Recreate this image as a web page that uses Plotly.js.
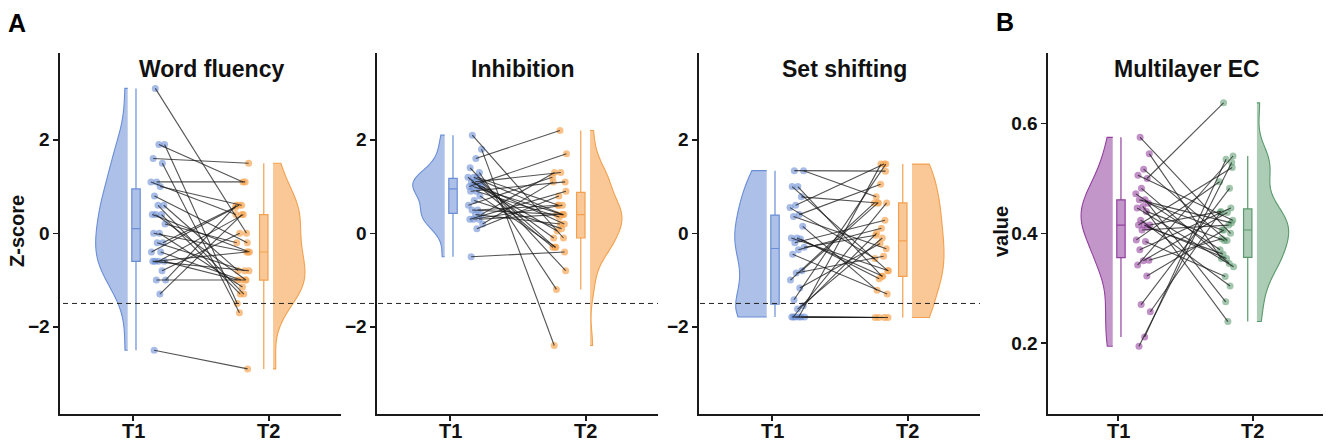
<!DOCTYPE html>
<html><head><meta charset="utf-8">
<script src="https://cdn.plot.ly/plotly-3.0.1.min.js"></script>
<style>html,body{margin:0;padding:0;background:#fff}#chart{width:1326px;height:444px}</style>
</head><body><div id="chart"></div>
<script>
// ---------------- data (paired: index i = same subject) ----------------
const timeLabels = ['T1', 'T2'];
const panelTitles = ['Word fluency', 'Inhibition', 'Set shifting', 'Multilayer EC'];
const yTitles = ['Z-score', 'value'];
const cutoffZ = -1.5;

const wordT1 = [3.1, 1.9, 1.9, 1.6, 1.5, 1.1, 1.1, 1.0, 0.8, 0.6, 0.6, 0.4, 0.4, 0.4, 0.2,
  0.0, 0.0, -0.2, -0.2, -0.4, -0.4, -0.6, -0.6, -0.6, -0.6, -0.8, -1.0, -1.0, -1.3, -2.5];
const wordT2 = [0.0, -1.5, 1.1, 1.5, -1.7, 1.1, 0.4, 0.6, -0.2, -0.8, -1.3, -0.4, -1.3, -1.0, -0.2,
  -1.15, -0.4, 0.6, -0.8, 0.55, -1.0, -0.4, -1.0, 0.4, -0.8, 0.0, -1.0, 0.6, 0.4, -2.9];

const inhibT1 = [2.1, 1.8, 1.6, 1.4, 1.3, 1.2, 1.2, 1.2, 1.1, 1.1, 1.1, 1.0, 1.0, 1.0, 1.0,
  0.9, 0.9, 0.8, 0.7, 0.6, 0.5, 0.5, 0.4, 0.4, 0.3, 0.3, 0.3, 0.2, 0.1, -0.5];
const inhibT2 = [-0.1, -2.4, 2.2, -0.8, -1.2, 0.4, -0.3, 0.6, 0.2, -0.3, 1.3, 1.7, 0.05, 0.4, -0.1,
  0.35, 1.1, -0.3, 0.1, 1.2, 0.6, 0.4, 1.3, 0.2, 0.9, 0.4, 0.6, 1.1, 0.8, -0.4];

const shiftT1 = [1.34, 1.34, 1.0, 1.0, 0.78, 0.6, 0.55, 0.4, 0.36, 0.15, -0.1, -0.1, -0.12, -0.2, -0.3,
  -0.35, -0.45, -0.8, -0.85, -1.0, -1.17, -1.42, -1.55, -1.62, -1.79, -1.79, -1.79, -1.79, -1.79, -1.79];
const shiftT2 = [1.33, 0.78, -0.92, -0.8, 0.65, 1.48, -0.54, 1.05, -0.33, -1.22, -0.92, -0.8, -0.97, 0.28, -0.04,
  0.11, -1.3, 0.65, -0.49, 0.65, -0.22, 1.48, 0.0, -0.1, -1.8, -1.8, -1.8, -1.8, 1.48, 0.65];

const ecT1 = [0.575, 0.545, 0.517, 0.506, 0.50, 0.482, 0.472, 0.461, 0.461, 0.455, 0.449, 0.446, 0.44, 0.424, 0.415,
  0.415, 0.415, 0.411, 0.406, 0.388, 0.385, 0.37, 0.351, 0.35, 0.342, 0.322, 0.27, 0.257, 0.211, 0.194];
const ecT2 = [0.40, 0.354, 0.387, 0.424, 0.638, 0.345, 0.37, 0.275, 0.419, 0.406, 0.239, 0.339, 0.387, 0.304, 0.44,
  0.354, 0.52, 0.362, 0.415, 0.494, 0.321, 0.446, 0.39, 0.438, 0.541, 0.406, 0.482, 0.438, 0.535, 0.529];

// ---------------- styling / layout config ----------------
const W = 1326, H = 444;
const FONT = 'Liberation Sans, Arial, Helvetica, sans-serif';
const pal = {
  blue:   {line: '#6A8ED6', fill: 'rgba(106,142,214,0.55)', mk: 'rgba(106,142,214,0.6)'},
  orange: {line: '#F2A150', fill: 'rgba(246,166,86,0.62)', mk: 'rgba(246,166,86,0.7)'},
  purple: {line: '#92409F', fill: 'rgba(146,64,159,0.55)', mk: 'rgba(146,64,159,0.58)'},
  green:  {line: '#5A9A6C', fill: 'rgba(90,154,108,0.5)',  mk: 'rgba(90,154,108,0.56)'}
};
const yTop = 53, yBot = 414;
const panels = [
  {t1: wordT1,  t2: wordT2,  px: [60, 341],   xr: [0.463, 2.53], yr: [-3.865, 3.857], tv: [-2, 0, 2], c1: pal.blue,   c2: pal.orange, cx: 211},
  {t1: inhibT1, t2: inhibT2, px: [377, 658],  xr: [0.463, 2.53], yr: [-3.865, 3.857], tv: [-2, 0, 2], c1: pal.blue,   c2: pal.orange, cx: 522},
  {t1: shiftT1, t2: shiftT2, px: [699, 980],  xr: [0.463, 2.53], yr: [-3.865, 3.857], tv: [-2, 0, 2], c1: pal.blue,   c2: pal.orange, cx: 844},
  {t1: ecT1,    t2: ecT2,    px: [1048, 1323], xr: [0.481, 2.52], yr: [0.0704, 0.7289], tv: [0.2, 0.4, 0.6], c1: pal.purple, c2: pal.green, cx: 1187}
];

// ---------------- helpers ----------------
function q7(s, p) { const h = (s.length - 1) * p, lo = Math.floor(h), hi = Math.ceil(h); return s[lo] + (h - lo) * (s[hi] - s[lo]); }
function boxStats(v) {
  const s = [...v].sort((a, b) => a - b);
  const q1 = q7(s, 0.25), med = q7(s, 0.5), q3 = q7(s, 0.75), iqr = q3 - q1;
  const lf = s.find(x => x >= q1 - 1.5 * iqr);
  const uf = [...s].reverse().find(x => x <= q3 + 1.5 * iqr);
  return {q1, med, q3, lf, uf};
}
function nrd0(v) {
  const n = v.length, m = v.reduce((a, b) => a + b, 0) / n;
  const sd = Math.sqrt(v.reduce((a, b) => a + (b - m) * (b - m), 0) / (n - 1));
  const s = [...v].sort((a, b) => a - b);
  const iqr = q7(s, 0.75) - q7(s, 0.25);
  return 0.9 * Math.min(sd, iqr / 1.34) * Math.pow(n, -0.2);
}
function jit(i, phase, step) { return (((i * step + phase) % 1) - 0.5) * 0.11; }

const traces = [];
const layout = {
  width: W, height: H, margin: {l: 0, r: 0, t: 0, b: 0},
  paper_bgcolor: '#fff', plot_bgcolor: '#fff', showlegend: false,
  boxmode: 'overlay', violinmode: 'overlay',
  font: {family: FONT, color: '#111'},
  annotations: [], shapes: []
};
const boldFont = (size, color) => ({family: FONT, size: size, weight: 'bold', color: color || '#111'});

panels.forEach((p, k) => {
  const sfx = k === 0 ? '' : String(k + 1);
  const xa = 'x' + sfx, ya = 'y' + sfx;
  const n = p.t1.length;
  // half violins
  [[p.t1, 0.961, 'negative', p.c1], [p.t2, 2.03, 'positive', p.c2]].forEach(([v, pos, side, c]) => {
    traces.push({type: 'violin', y: v, x0: pos, side: side, width: 0.47, scalemode: 'width',
      spanmode: 'hard', bandwidth: nrd0(v), points: false, box: {visible: false}, meanline: {visible: false},
      line: {color: c.line, width: 1.1}, fillcolor: c.fill, hoverinfo: 'skip', xaxis: xa, yaxis: ya});
  });
  // boxes
  [[p.t1, 1.022, p.c1], [p.t2, 1.962, p.c2]].forEach(([v, pos, c]) => {
    const b = boxStats(v);
    traces.push({type: 'box', x: [pos], q1: [b.q1], median: [b.med], q3: [b.q3],
      lowerfence: [b.lf], upperfence: [b.uf], width: 0.062, whiskerwidth: 0, boxpoints: false,
      line: {color: c.line, width: 1.2}, fillcolor: c.fill, hoverinfo: 'skip', xaxis: xa, yaxis: ya});
  });
  // jittered points
  const x1 = p.t1.map((_, i) => 1.185 + jit(i, 0.31, 0.6180339887));
  const x2 = p.t2.map((_, i) => 1.805 + jit(i, 0.77, 0.3819660113));
  traces.push({type: 'scatter', mode: 'markers', x: x1, y: p.t1, marker: {size: 7, color: p.c1.mk},
    hoverinfo: 'skip', xaxis: xa, yaxis: ya});
  traces.push({type: 'scatter', mode: 'markers', x: x2, y: p.t2, marker: {size: 7, color: p.c2.mk},
    hoverinfo: 'skip', xaxis: xa, yaxis: ya});
  // paired lines
  const lx = [], ly = [];
  for (let i = 0; i < n; i++) { lx.push(x1[i], x2[i], null); ly.push(p.t1[i], p.t2[i], null); }
  traces.push({type: 'scatter', mode: 'lines', x: lx, y: ly, line: {color: 'rgba(25,25,25,0.75)', width: 1.1},
    hoverinfo: 'skip', connectgaps: false, xaxis: xa, yaxis: ya});

  const axBase = {showgrid: false, zeroline: false, showline: true, linecolor: '#1a1a1a', linewidth: 1.6,
    ticks: 'outside', ticklen: 5, tickwidth: 1.4, tickcolor: '#1a1a1a', automargin: false,
    tickfont: boldFont(19), fixedrange: true};
  layout['xaxis' + sfx] = Object.assign({}, axBase, {
    domain: [p.px[0] / W, p.px[1] / W], range: p.xr, anchor: ya,
    tickvals: [1, 2], ticktext: timeLabels, showticklabels: false});
  layout['yaxis' + sfx] = Object.assign({}, axBase, {
    domain: [(H - yBot) / H, (H - yTop) / H], range: p.yr, anchor: xa,
    tickvals: p.tv});
  // x tick labels (as text placed on the x scale)
  timeLabels.forEach((lab, j) => {
    layout.annotations.push({text: lab, xref: xa, yref: 'paper', x: j + 1, y: 1 - 431 / H,
      xanchor: 'center', yanchor: 'middle', showarrow: false, font: boldFont(20)});
  });
  layout.annotations.push({text: panelTitles[k], xref: 'paper', yref: 'paper', x: p.cx / W, y: 1 - 69 / H,
    xanchor: 'center', yanchor: 'middle', showarrow: false, font: boldFont(23)});
});

// cutoff dashed lines (Z panels)
layout.shapes.push({type: 'line', xref: 'paper', yref: 'y', x0: 63 / W, x1: 658 / W, y0: cutoffZ, y1: cutoffZ,
  line: {color: '#222', width: 1, dash: '5px,4px'}});
layout.shapes.push({type: 'line', xref: 'paper', yref: 'y3', x0: 700 / W, x1: 980 / W, y0: cutoffZ, y1: cutoffZ,
  line: {color: '#222', width: 1, dash: '5px,4px'}});

// axis titles and panel letters
layout.annotations.push({text: yTitles[0], xref: 'paper', yref: 'paper', x: 17 / W, y: 1 - 231 / H, textangle: -90,
  xanchor: 'center', yanchor: 'middle', showarrow: false, font: boldFont(20)});
layout.annotations.push({text: yTitles[1], xref: 'paper', yref: 'paper', x: 1001 / W, y: 1 - 232 / H, textangle: -90,
  xanchor: 'center', yanchor: 'middle', showarrow: false, font: boldFont(20)});
layout.annotations.push({text: 'A', xref: 'paper', yref: 'paper', x: 17 / W, y: 1 - 23 / H,
  xanchor: 'center', yanchor: 'middle', showarrow: false, font: boldFont(25, '#000')});
layout.annotations.push({text: 'B', xref: 'paper', yref: 'paper', x: 1005 / W, y: 1 - 22 / H,
  xanchor: 'center', yanchor: 'middle', showarrow: false, font: boldFont(25, '#000')});

Plotly.newPlot('chart', traces, layout, {staticPlot: true, displayModeBar: false});
</script>
</body></html>
